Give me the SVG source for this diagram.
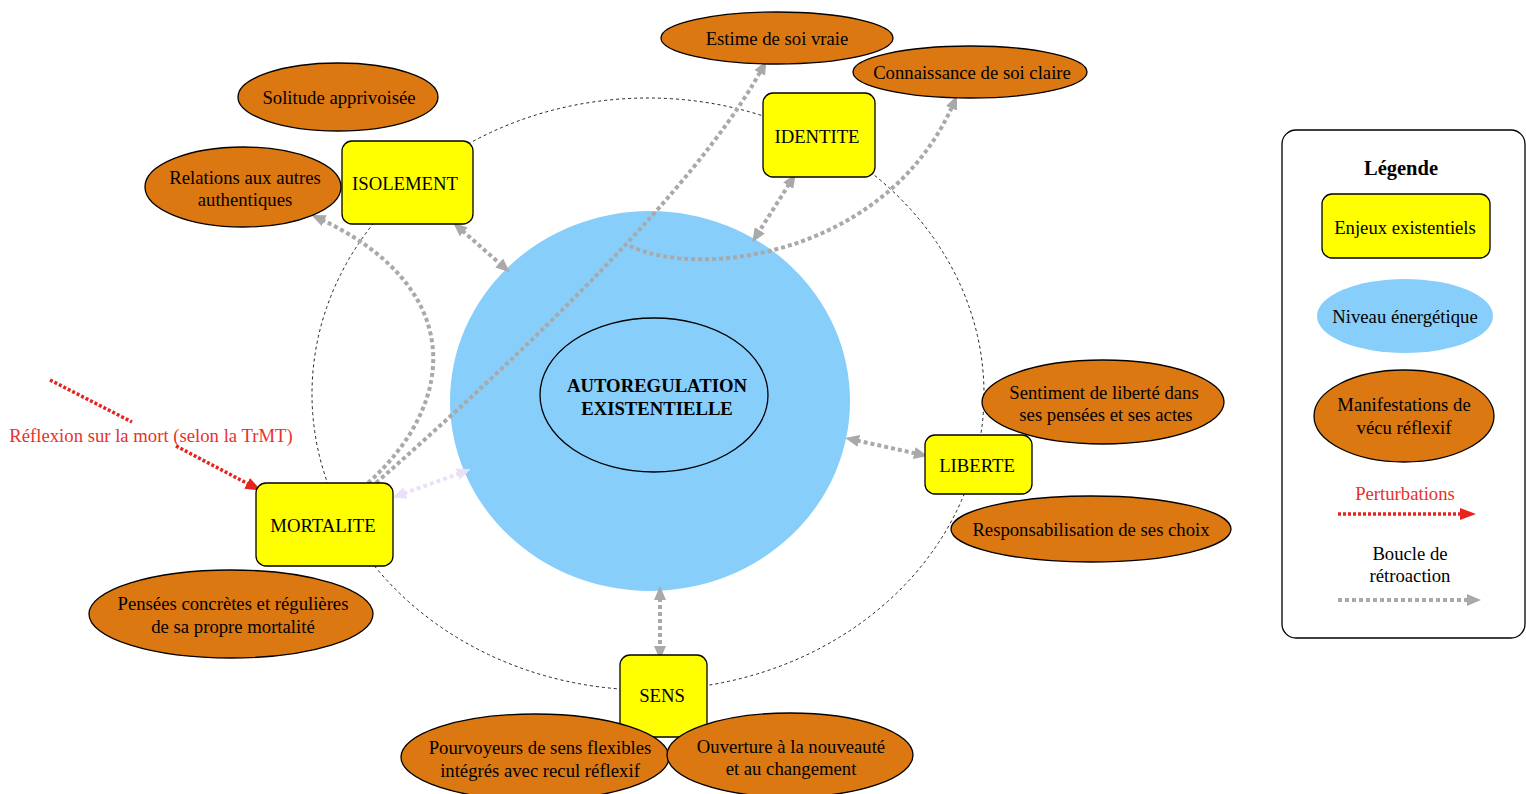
<svg xmlns="http://www.w3.org/2000/svg" width="1526" height="794" viewBox="0 0 1526 794">
  <style>
    text { font-family: "Liberation Serif", "Times New Roman", serif; font-size: 18.7px; fill: #000; text-anchor: middle; }
    .issue { fill: #ffff00; stroke: #000; stroke-width: 1.3; }
    .manif { fill: #dc7812; stroke: #000; stroke-width: 1.3; }
    .energy { fill: #87cefa; }
    .orbit { fill: none; stroke: #222; stroke-width: 1; stroke-dasharray: 3 3; }
    .loop { fill: none; stroke: #a9a9a9; stroke-width: 4; stroke-dasharray: 4 3; }
    .loop2 { fill: none; stroke: #ebe0fa; stroke-width: 4; stroke-dasharray: 4 3; }
    .perturb { fill: none; stroke: #e8231e; stroke-width: 3.5; stroke-dasharray: 3 2; }
    .red { fill: #e8312b; }
    .bold { font-weight: bold; }
  </style>
  <defs>
    <marker id="headGray" viewBox="0 0 14 12" refX="9" refY="6" markerWidth="14" markerHeight="12" markerUnits="userSpaceOnUse" orient="auto-start-reverse">
      <path d="M0,0 L14,6 L0,12 z" fill="#a9a9a9"/>
    </marker>
    <marker id="headLilac" viewBox="0 0 14 12" refX="9" refY="6" markerWidth="14" markerHeight="12" markerUnits="userSpaceOnUse" orient="auto-start-reverse">
      <path d="M0,0 L14,6 L0,12 z" fill="#ebe0fa"/>
    </marker>
    <marker id="headRed" viewBox="0 0 16 12" refX="10" refY="6" markerWidth="16" markerHeight="12" markerUnits="userSpaceOnUse" orient="auto">
      <path d="M0,0 L16,6 L0,12 z" fill="#e8231e"/>
    </marker>
  </defs>

  <!-- orbit linking the existential issues -->
  <ellipse class="orbit" cx="648" cy="394" rx="336" ry="296"/>

  <!-- energy level -->
  <g id="energy">
    <ellipse class="energy" cx="650" cy="401" rx="200" ry="190"/>
  </g>

  <g id="autoregulation">
    <ellipse cx="654" cy="395" rx="114" ry="77" fill="none" stroke="#000" stroke-width="1.3"/>
    <text class="bold" x="657" y="392">AUTOREGULATION</text>
    <text class="bold" x="657" y="415">EXISTENTIELLE</text>
  </g>

  <!-- feedback loops and perturbations -->
  <g id="connectors">
    <path class="loop" d="M457,226 L506,269" marker-start="url(#headGray)" marker-end="url(#headGray)"/>
    <path class="loop" d="M793,178 L755,238" marker-start="url(#headGray)" marker-end="url(#headGray)"/>
    <path class="loop" d="M850,439 L923,455" marker-start="url(#headGray)" marker-end="url(#headGray)"/>
    <path class="loop" d="M660,591 L660,655" marker-start="url(#headGray)" marker-end="url(#headGray)"/>
    <path class="loop" d="M368,483 C460,400 465,285 316,217" marker-end="url(#headGray)"/>
    <path class="loop" d="M376,483 Q688,208 764,65" marker-end="url(#headGray)"/>
    <path class="loop" d="M630,246 C700,280 890,255 955,100" marker-end="url(#headGray)"/>
    <path class="loop2" d="M397,496 L466,471" marker-start="url(#headLilac)" marker-end="url(#headLilac)"/>
    <path class="perturb" d="M50,380 L132,422"/>
    <path class="perturb" d="M176,446 L256,488" marker-end="url(#headRed)"/>
  </g>

  <text class="red" x="151" y="442">Réflexion sur la mort (selon la TrMT)</text>

  <!-- existential issues -->
  <g id="isolement">
    <rect class="issue" x="342" y="141" width="131" height="83" rx="10"/>
    <text x="405" y="190">ISOLEMENT</text>
  </g>
  <g id="identite">
    <rect class="issue" x="763" y="93" width="112" height="84" rx="10"/>
    <text x="817" y="143">IDENTITE</text>
  </g>
  <g id="liberte">
    <rect class="issue" x="925" y="435" width="107" height="59" rx="10"/>
    <text x="977" y="472">LIBERTE</text>
  </g>
  <g id="mortalite">
    <rect class="issue" x="256" y="483" width="137" height="83" rx="10"/>
    <text x="323" y="532">MORTALITE</text>
  </g>
  <g id="sens">
    <rect class="issue" x="620" y="655" width="87" height="82" rx="10"/>
    <text x="662" y="702">SENS</text>
  </g>

  <!-- reflexive manifestations -->
  <g id="estime">
    <ellipse class="manif" cx="777" cy="38" rx="116" ry="26"/>
    <text x="777" y="45">Estime de soi vraie</text>
  </g>
  <g id="connaissance">
    <ellipse class="manif" cx="970" cy="72" rx="117" ry="26"/>
    <text x="972" y="79">Connaissance de soi claire</text>
  </g>
  <g id="solitude">
    <ellipse class="manif" cx="338" cy="97" rx="100" ry="34"/>
    <text x="339" y="104">Solitude apprivoisée</text>
  </g>
  <g id="relations">
    <ellipse class="manif" cx="243" cy="187" rx="98" ry="40"/>
    <text x="245" y="184">Relations aux autres</text>
    <text x="245" y="206">authentiques</text>
  </g>
  <g id="sentiment">
    <ellipse class="manif" cx="1103" cy="402" rx="121" ry="42"/>
    <text x="1104" y="399">Sentiment de liberté dans</text>
    <text x="1106" y="421">ses pensées et ses actes</text>
  </g>
  <g id="responsabilisation">
    <ellipse class="manif" cx="1091" cy="529" rx="140" ry="33"/>
    <text x="1091" y="536">Responsabilisation de ses choix</text>
  </g>
  <g id="pensees">
    <ellipse class="manif" cx="231" cy="614" rx="142" ry="44"/>
    <text x="233" y="610">Pensées concrètes et régulières</text>
    <text x="233" y="633">de sa propre mortalité</text>
  </g>
  <g id="pourvoyeurs">
    <ellipse class="manif" cx="535" cy="757" rx="134" ry="43"/>
    <text x="540" y="754">Pourvoyeurs de sens flexibles</text>
    <text x="540" y="777">intégrés avec recul réflexif</text>
  </g>
  <g id="ouverture">
    <ellipse class="manif" cx="790" cy="755" rx="123" ry="42"/>
    <text x="791" y="753">Ouverture à la nouveauté</text>
    <text x="791" y="775">et au changement</text>
  </g>

  <!-- legend -->
  <g id="legend">
    <rect x="1282" y="130" width="243" height="508" rx="14" fill="#fff" stroke="#000" stroke-width="1.3"/>
    <text class="bold" x="1401" y="175" style="font-size:20.5px">Légende</text>
    <rect class="issue" x="1322" y="194" width="168" height="64" rx="10"/>
    <text x="1405" y="234">Enjeux existentiels</text>
    <ellipse class="energy" cx="1405" cy="316" rx="88" ry="37"/>
    <text x="1405" y="323">Niveau énergétique</text>
    <ellipse class="manif" cx="1404" cy="416" rx="90" ry="46"/>
    <text x="1404" y="411">Manifestations de</text>
    <text x="1404" y="434">vécu réflexif</text>
    <text class="red" x="1405" y="500">Perturbations</text>
    <path class="perturb" d="M1338,514 L1470,514" marker-end="url(#headRed)"/>
    <text x="1410" y="560">Boucle de</text>
    <text x="1410" y="582">rétroaction</text>
    <path class="loop" d="M1338,600 L1476,600" marker-end="url(#headGray)"/>
  </g>
</svg>
